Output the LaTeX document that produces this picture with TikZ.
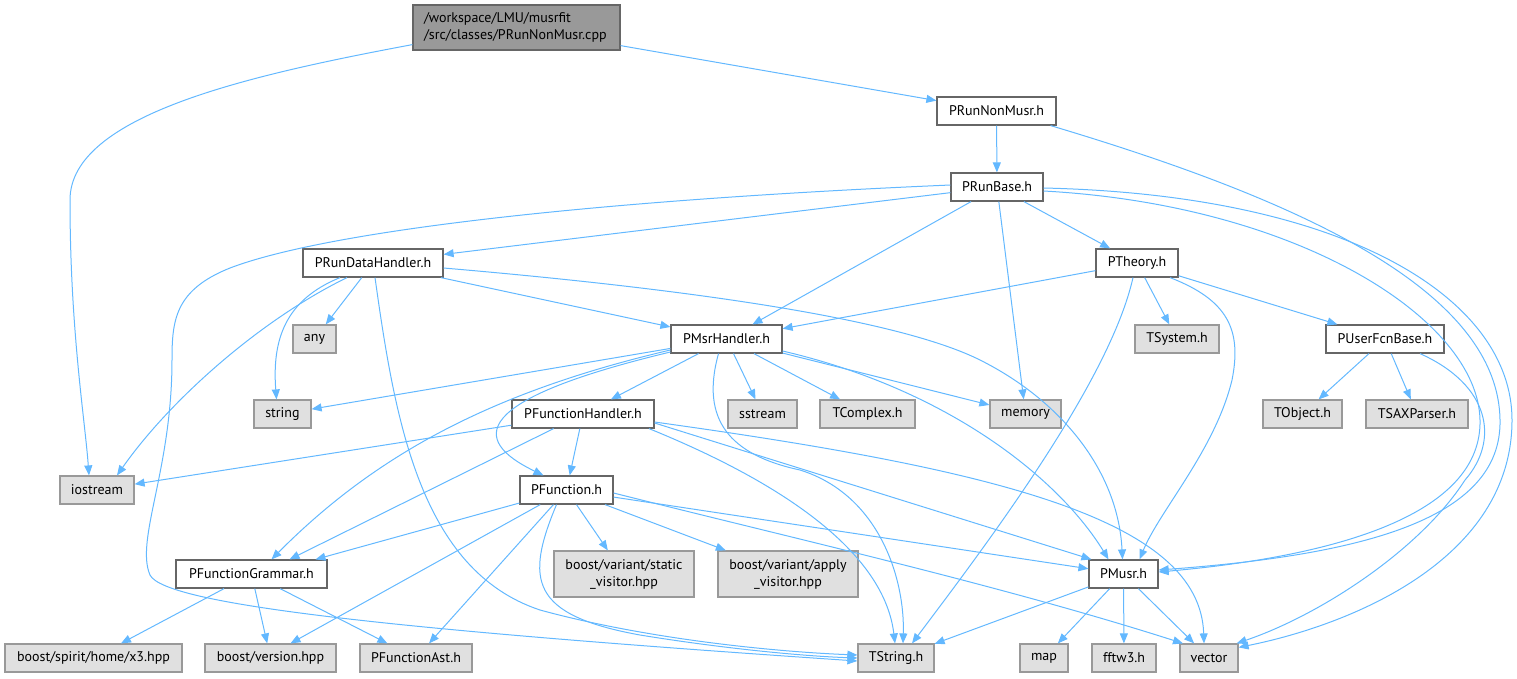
\documentclass[tikz,border=0pt]{standalone}
\usepackage{fontspec}
\setmainfont{PT Sans}
\usetikzlibrary{arrows.meta}
\definecolor{edgeblue}{HTML}{63B8FF}
\definecolor{nodeborder}{HTML}{666666}
\definecolor{sysborder}{HTML}{999999}
\definecolor{sysfill}{HTML}{E0E0E0}
\definecolor{rootfill}{HTML}{999999}
\tikzset{
hfile/.style={
  draw=nodeborder,
  fill=white,
  line width=1.2pt,
  minimum height=28pt,
  inner sep=0pt,
  align=center
  },
sysfile/.style={hfile, draw=sysborder, fill=sysfill},
srcfile/.style={hfile, fill=rootfill, align=left},
incl/.style={draw=edgeblue, line width=1pt, -{Triangle[length=10pt,width=8pt]}}
}

\begin{document}
\begin{tikzpicture}[x=1pt, y=-1pt, font=\fontsize{14}{17}\selectfont]
  \useasboundingbox (0,0) rectangle (1517,678);

  \node[srcfile, minimum width=207pt, minimum height=45pt, text width=185pt] (root) at (516.5,27.5)
    {/workspace/LMU/musrfit\\/src/classes/PRunNonMusr.cpp};

  \node[hfile, minimum width=119pt] (prunnonmusr) at (996.5,111) {PRunNonMusr.h};
  \node[hfile, minimum width=92pt]  (prunbase) at (997,187) {PRunBase.h};
  \node[hfile, minimum width=140pt] (prundatahandler) at (373,263) {PRunDataHandler.h};
  \node[hfile, minimum width=82pt]  (ptheory) at (1137,263) {PTheory.h};
  \node[hfile, minimum width=111pt] (pmsrhandler) at (726.5,339) {PMsrHandler.h};
  \node[sysfile, minimum width=43pt] (any) at (314.5,339) {any};
  \node[sysfile, minimum width=84pt] (tsystem) at (1177,339) {TSystem.h};
  \node[hfile, minimum width=118pt] (puserfcnbase) at (1385,339) {PUserFcnBase.h};
  \node[sysfile, minimum width=57pt] (string) at (282.5,414) {string};
  \node[hfile, minimum width=142pt] (pfunctionhandler) at (583,414) {PFunctionHandler.h};
  \node[sysfile, minimum width=69pt] (sstream) at (762.5,414) {sstream};
  \node[sysfile, minimum width=95pt] (tcomplex) at (867.5,414) {TComplex.h};
  \node[sysfile, minimum width=71pt] (memory) at (1025.5,414) {memory};
  \node[sysfile, minimum width=79pt] (tobject) at (1302.5,414) {TObject.h};
  \node[sysfile, minimum width=102pt] (tsaxparser) at (1417,414) {TSAXParser.h};
  \node[sysfile, minimum width=74pt] (iostream) at (97,490) {iostream};
  \node[hfile, minimum width=93pt]  (pfunction) at (566.5,490) {PFunction.h};
  \node[hfile, minimum width=151pt] (pfunctiongrammar) at (251.5,574) {PFunctionGrammar.h};
  \node[sysfile, minimum width=140pt, minimum height=46pt] (staticvisitor) at (624,574)
    {boost/variant/static\\\_visitor.hpp};
  \node[sysfile, minimum width=140pt, minimum height=46pt] (applyvisitor) at (788,574)
    {boost/variant/apply\\\_visitor.hpp};
  \node[hfile, minimum width=69pt]  (pmusr) at (1123.5,574) {PMusr.h};
  \node[sysfile, minimum width=177pt] (x3) at (93.5,658) {boost/spirit/home/x3.hpp};
  \node[sysfile, minimum width=131pt] (bversion) at (270.5,658) {boost/version.hpp};
  \node[sysfile, minimum width=112pt] (pfunctionast) at (416,658) {PFunctionAst.h};
  \node[sysfile, minimum width=76pt] (tstring) at (896,658) {TString.h};
  \node[sysfile, minimum width=48pt] (map) at (1044,658) {map};
  \node[sysfile, minimum width=64pt] (fftw3) at (1124,658) {fftw3.h};
  \node[sysfile, minimum width=58pt] (vector) at (1209,658) {vector};

  % PRunNonMusr.cpp
  \draw[incl] ([yshift=6pt]root.south west) .. controls (250,75) and (70,115) .. (70,200)
              .. controls (70,330) and (85,420) .. ([xshift=-8pt]iostream.north);
  \draw[incl] (root) -- (prunnonmusr);

  % PRunNonMusr.h
  \draw[incl] (prunnonmusr) -- (prunbase);
  \draw[incl] ([xshift=-6pt]prunnonmusr.south east) .. controls (1300,200) and (1498,290) .. (1500,420)
              .. controls (1502,520) and (1360,555) .. ([yshift=4pt]pmusr.east);

  % PRunBase.h
  \draw[incl] (prunbase) -- (prundatahandler);
  \draw[incl] (prunbase) -- (pmsrhandler);
  \draw[incl] (prunbase) -- (memory);
  \draw[incl] (prunbase) -- (ptheory);
  \draw[incl] ([yshift=-4pt]prunbase.east) .. controls (1300,205) and (1478,320) .. (1480,420)
              .. controls (1482,510) and (1350,555) .. ([yshift=2pt]pmusr.east);
  \draw[incl] ([yshift=-1pt]prunbase.east) .. controls (1350,195) and (1512,300) .. (1512,420)
              .. controls (1512,560) and (1350,625) .. ([yshift=-4pt]vector.north east);
  \draw[incl] ([yshift=2pt]prunbase.west) .. controls (600,200) and (330,230) .. (230,268)
              .. controls (175,290) and (172,320) .. (172,360)
              .. controls (172,470) and (135,540) .. (150,575)
              .. controls (165,605) and (400,630) .. ([yshift=-3pt]tstring.west);

  % PRunDataHandler.h
  \draw[incl] (prundatahandler) -- (any);
  \draw[incl] ([xshift=-33pt]prundatahandler.south) .. controls (285,300) and (272,340) .. ([xshift=-6pt]string.north);
  \draw[incl] ([xshift=-26pt]prundatahandler.south) .. controls (260,320) and (170,400) .. ([xshift=20pt]iostream.north);
  \draw[incl] ([xshift=2pt]prundatahandler.south) .. controls (395,420) and (420,570) .. (540,610)
              .. controls (650,640) and (780,652) .. ([yshift=3pt]tstring.west);
  \draw[incl] (prundatahandler) -- (pmsrhandler);
  \draw[incl] ([yshift=-5pt]prundatahandler.east) .. controls (700,290) and (900,320) .. (980,360)
              .. controls (1060,400) and (1118,470) .. ([xshift=-1pt]pmusr.north);

  % PTheory.h
  \draw[incl] (ptheory) -- (pmsrhandler);
  \draw[incl] (ptheory) -- (tsystem);
  \draw[incl] (ptheory) -- (puserfcnbase);
  \draw[incl] ([xshift=-4pt]ptheory.south) .. controls (1110,380) and (990,540) .. ([xshift=16pt]tstring.north);
  \draw[incl] ([xshift=33pt]ptheory.south) .. controls (1228,300) and (1242,330) .. (1232,380)
              .. controls (1215,450) and (1160,510) .. ([xshift=16pt]pmusr.north);

  % PUserFcnBase.h
  \draw[incl] (puserfcnbase) -- (tobject);
  \draw[incl] (puserfcnbase) -- (tsaxparser);
  \draw[incl] ([xshift=35pt]puserfcnbase.south) .. controls (1490,385) and (1500,440) .. (1465,480)
              .. controls (1420,550) and (1320,615) .. ([xshift=-2pt]vector.north east);

  % PMsrHandler.h
  \draw[incl] (pmsrhandler) -- (pfunctionhandler);
  \draw[incl] (pmsrhandler) -- (sstream);
  \draw[incl] (pmsrhandler) -- (tcomplex);
  \draw[incl] (pmsrhandler) -- (memory);
  \draw[incl] (pmsrhandler) -- (string);
  \draw[incl] ([yshift=-11pt]pmsrhandler.west) .. controls (500,390) and (380,450) .. ([xshift=20pt]pfunctiongrammar.north);
  \draw[incl] ([yshift=-13pt]pmsrhandler.west) .. controls (470,400) and (470,440) .. ([xshift=-23pt]pfunction.north);
  \draw[incl] ([xshift=-8pt]pmsrhandler.south) .. controls (700,420) and (730,455) .. (800,470)
              .. controls (880,495) and (905,580) .. ([xshift=7pt]tstring.north);
  \draw[incl] ([yshift=-12pt]pmsrhandler.east) .. controls (950,390) and (1060,480) .. ([xshift=-15pt]pmusr.north);

  % PFunctionHandler.h
  \draw[incl] (pfunctionhandler) -- (iostream);
  \draw[incl] (pfunctionhandler) -- ([xshift=38pt]pfunctiongrammar.north);
  \draw[incl] (pfunctionhandler) -- (pfunction);
  \draw[incl] ([xshift=66pt]pfunctionhandler.south) .. controls (800,490) and (885,560) .. ([xshift=-1pt]tstring.north);
  \draw[incl] ([yshift=-9pt]pfunctionhandler.east) -- ([xshift=3pt]pmusr.north west);
  \draw[incl] ([yshift=-8pt]pfunctionhandler.east) .. controls (1000,470) and (1200,520) .. ([xshift=-5pt]vector.north);

  % PFunction.h
  \draw[incl] (pfunction) -- ([xshift=64pt]pfunctiongrammar.north);
  \draw[incl] (pfunction) -- ([xshift=20pt]bversion.north);
  \draw[incl] (pfunction) -- ([xshift=13pt]pfunctionast.north);
  \draw[incl] ([xshift=-10pt]pfunction.south) .. controls (525,580) and (530,615) .. (640,635)
              .. controls (720,648) and (800,656) .. (tstring.west);
  \draw[incl] (pfunction) -- (staticvisitor);
  \draw[incl] (pfunction) -- (applyvisitor);
  \draw[incl] (pfunction) -- (pmusr);
  \draw[incl] ([yshift=-3pt]pfunction.east) .. controls (800,540) and (1000,585) .. ([xshift=-26pt]vector.north);

  % PFunctionGrammar.h
  \draw[incl] (pfunctiongrammar) -- (x3);
  \draw[incl] (pfunctiongrammar) -- (bversion);
  \draw[incl] (pfunctiongrammar) -- (pfunctionast);

  % PMusr.h
  \draw[incl] (pmusr) -- (tstring);
  \draw[incl] (pmusr) -- (map);
  \draw[incl] (pmusr) -- (fftw3);
  \draw[incl] (pmusr) -- (vector);

\end{tikzpicture}
\end{document}
